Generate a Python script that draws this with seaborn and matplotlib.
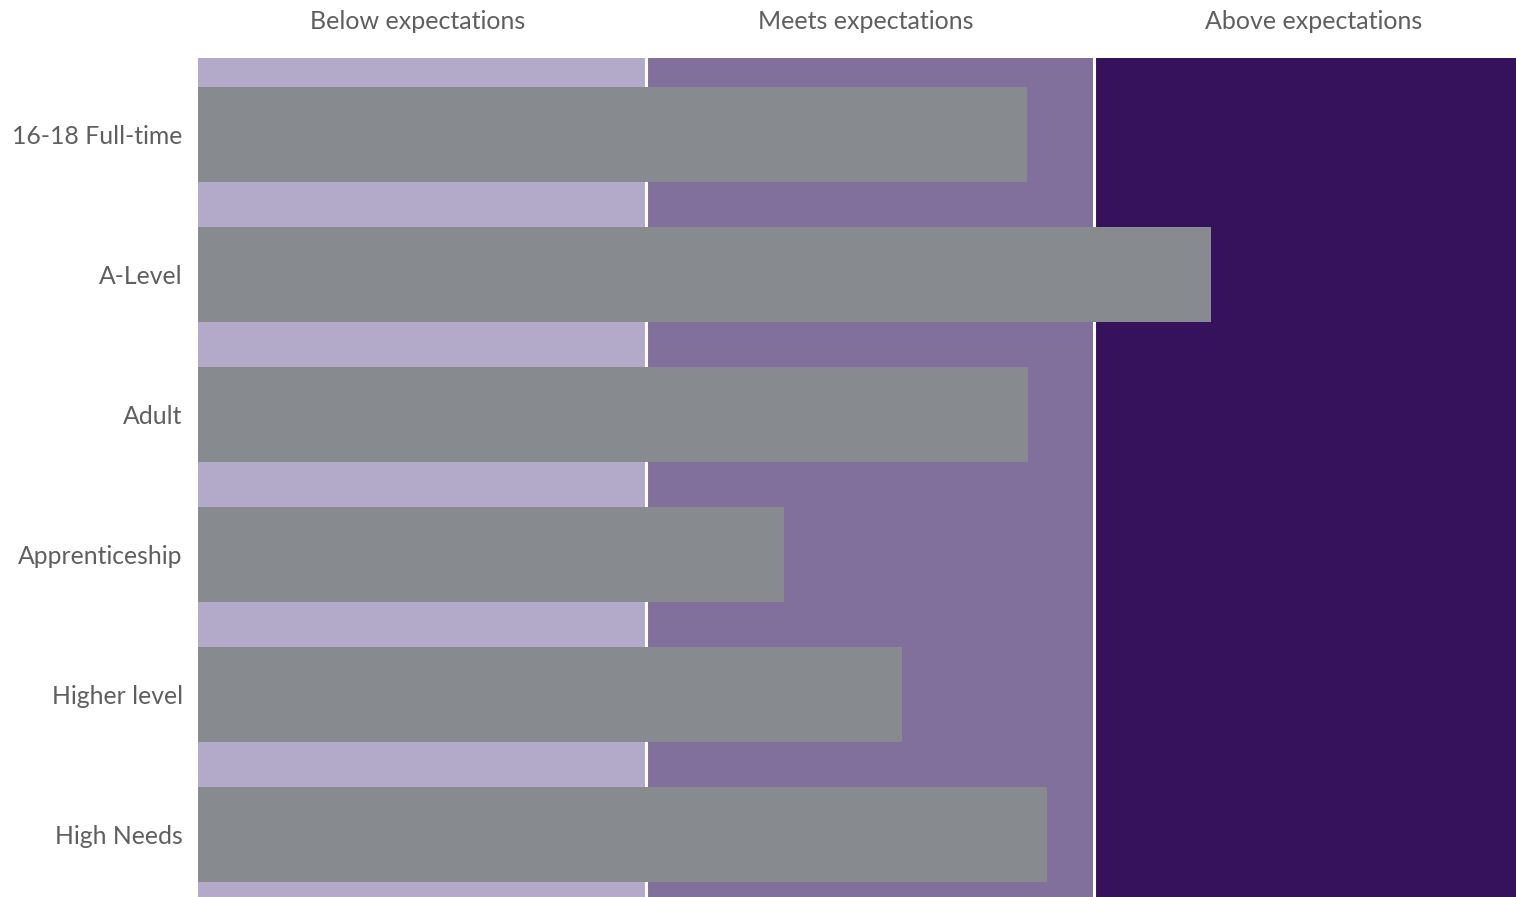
import matplotlib
matplotlib.use("Agg")
import matplotlib.pyplot as plt
import seaborn as sns
import pandas as pd

# Programme types and their score on a 0-3 scale
categories = ["16-18 Full-time", "A-Level", "Adult", "Apprenticeship", "Higher level", "High Needs"]
scores = [1.85, 2.262, 1.853, 1.308, 1.571, 1.896]

# Rating bands (start, end) and headings
band_labels = ["Below expectations", "Meets expectations", "Above expectations"]
band_edges = [0, 1, 2, 3]
band_colors = ["#b3aac9", "#82709c", "#36125c"]

bar_color = "#878a8e"
text_color = "#5f5f5f"

sns.set_theme(style="white")
plt.rcParams["font.family"] = ["Lato", "DejaVu Sans"]

fig = plt.figure(figsize=(15.16, 8.97), dpi=100)
ax = fig.add_axes([198 / 1516, 0, 1 - 198 / 1516, (897 - 58) / 897])

for i, c in enumerate(band_colors):
    ax.axvspan(band_edges[i], band_edges[i + 1], color=c, zorder=0, lw=0)
    if i > 0:
        ax.axvline(band_edges[i], color="white", lw=2.2, zorder=1)

df = pd.DataFrame({"category": categories, "score": scores})
sns.barplot(data=df, x="score", y="category", orient="h", color=bar_color,
            width=0.68, saturation=1, linewidth=0, edgecolor="none",
            ax=ax, zorder=2)

xmax = 1318 / 448
ax.set_xlim(0, xmax)
ax.set_ylim(5.45, -0.55)

# Band headings above the plot
for i, lab in enumerate(band_labels):
    mid = (band_edges[i] + band_edges[i + 1]) / 2
    ax.text(mid - 0.01, 1.0 + 0.044, lab, transform=ax.get_xaxis_transform(),
            ha="center", va="center", fontsize=18, color=text_color)

ax.set_xlabel("")
ax.set_ylabel("")
ax.set_xticks([])
ax.tick_params(axis="y", length=0, pad=11, labelsize=17.8, labelcolor=text_color)
for s in ax.spines.values():
    s.set_visible(False)

fig.savefig("out.png", dpi=100)
